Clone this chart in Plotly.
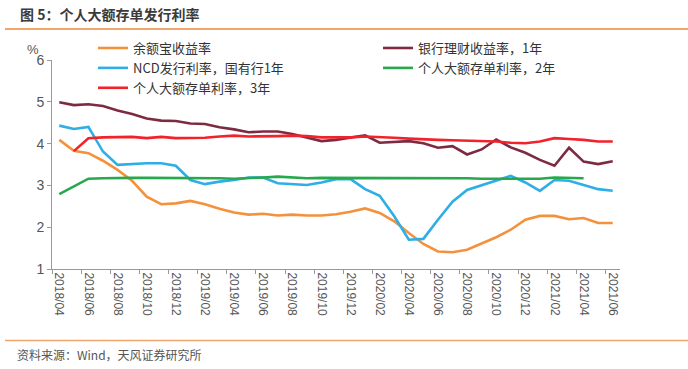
import plotly.graph_objects as go

months = ["2018/04","2018/05","2018/06","2018/07","2018/08","2018/09","2018/10","2018/11","2018/12",
          "2019/01","2019/02","2019/03","2019/04","2019/05","2019/06","2019/07","2019/08","2019/09","2019/10","2019/11","2019/12",
          "2020/01","2020/02","2020/03","2020/04","2020/05","2020/06","2020/07","2020/08","2020/09","2020/10","2020/11","2020/12",
          "2021/01","2021/02","2021/03","2021/04","2021/05","2021/06"]

yuebao = [4.09, 3.83, 3.77, 3.59, 3.37, 3.11, 2.73, 2.55, 2.57, 2.63, 2.55, 2.44, 2.35, 2.30, 2.32, 2.28, 2.30, 2.28, 2.28, 2.31,
          2.37, 2.45, 2.34, 2.14, 1.86, 1.60, 1.42, 1.40, 1.46, 1.61, 1.76, 1.94, 2.18, 2.27, 2.27, 2.19, 2.22, 2.10, 2.10]

bank_wm_1y = [4.99, 4.92, 4.94, 4.90, 4.79, 4.71, 4.60, 4.55, 4.54, 4.48, 4.47, 4.39, 4.34, 4.27, 4.29, 4.29, 4.23, 4.14, 4.06, 4.09,
              4.15, 4.20, 4.02, 4.04, 4.06, 4.01, 3.90, 3.94, 3.74, 3.86, 4.10, 3.91, 3.78, 3.61, 3.47, 3.90, 3.57, 3.51, 3.58]

ncd_1y = [4.43, 4.35, 4.40, 3.81, 3.49, 3.51, 3.53, 3.53, 3.47, 3.13, 3.03, 3.09, 3.13, 3.19, 3.19, 3.05, 3.03, 3.01, 3.07, 3.15,
          3.15, 2.91, 2.75, 2.26, 1.70, 1.72, 2.18, 2.61, 2.89, 3.00, 3.11, 3.23, 3.07, 2.87, 3.13, 3.11, 3.01, 2.91, 2.87]

cd_2y = [2.79, 2.97, 3.16, 3.17, 3.18, 3.18, 3.18, 3.18, 3.18, 3.18, 3.18, 3.17, 3.16, 3.17, 3.19, 3.21, 3.19, 3.17, 3.18, 3.18,
         3.17, 3.18, 3.18, 3.18, 3.18, 3.18, 3.17, 3.17, 3.17, 3.16, 3.16, 3.16, 3.16, 3.16, 3.19, 3.18, 3.17, None, None]

cd_3y = [None, 3.82, 4.13, 4.15, 4.16, 4.16, 4.13, 4.16, 4.13, 4.14, 4.14, 4.17, 4.19, 4.17, 4.17, 4.18, 4.19, 4.18, 4.15, 4.15,
         4.15, 4.17, 4.16, 4.14, 4.12, 4.10, 4.09, 4.08, 4.07, 4.05, 4.05, 4.02, 4.01, 4.05, 4.13, 4.11, 4.09, 4.05, 4.05]

series = [
    ("余额宝收益率", yuebao, "#F4913C", "legend", 1),
    ("银行理财收益率，1年", bank_wm_1y, "#7E2A40", "legend2", 1),
    ("NCD发行利率，国有行1年", ncd_1y, "#2EAEE6", "legend", 2),
    ("个人大额存单利率，2年", cd_2y, "#27A84C", "legend2", 2),
    ("个人大额存单利率，3年", cd_3y, "#F2222B", "legend", 3),
]

FONT = "Liberation Sans, Noto Sans CJK SC, sans-serif"
CJK = "Noto Sans CJK SC, sans-serif"

fig = go.Figure()
for name, vals, col, lg, rank in series:
    fig.add_trace(go.Scatter(x=months, y=vals, name=name, mode="lines", legend=lg, legendrank=rank,
                             line=dict(color=col, width=2.6), connectgaps=False))

PW, PH = 568, 209.3
leg_common = dict(orientation="v", xanchor="left", yanchor="top", xref="paper", yref="paper",
                  font=dict(family=CJK, size=13, color="#333333"),
                  bgcolor="rgba(0,0,0,0)", tracegroupgap=0, itemwidth=30, traceorder="normal")

fig.update_layout(
    width=688, height=369,
    margin=dict(l=52, r=68, t=60, b=100, autoexpand=False),
    paper_bgcolor="white", plot_bgcolor="white",
    font=dict(family=FONT, color="#404040"),
    showlegend=True,
    legend=dict(x=(93 - 52) / PW, y=1 + (60 - 33) / PH, **leg_common),
    legend2=dict(x=(378 - 52) / PW, y=1 + (60 - 33) / PH, **leg_common),
    xaxis=dict(type="category", tickson="boundaries", tickmode="linear", tick0=0, dtick=2,
               ticks="outside", ticklen=4, tickcolor="#999999",
               showline=True, linecolor="#999999", linewidth=1,
               showgrid=False, zeroline=False, tickangle=90,
               tickfont=dict(family=FONT, size=12, color="#555555"),
               range=[-0.5, 38.5]),
    yaxis=dict(range=[1, 6], tickmode="linear", tick0=1, dtick=1,
               ticks="outside", ticklen=4, tickcolor="#999999",
               showline=True, linecolor="#999999", linewidth=1,
               showgrid=False, zeroline=False,
               tickfont=dict(family=FONT, size=14, color="#555555")),
)

fig.add_annotation(text="<b>图 5：个人大额存单发行利率</b>", xref="paper", yref="paper",
                   x=-34 / PW, y=1 + 46 / PH, xanchor="left", yanchor="middle", showarrow=False,
                   font=dict(family=CJK, size=14, color="#3a3a3a"))
fig.add_annotation(text="资料来源：Wind，天风证券研究所", xref="paper", yref="paper",
                   x=-37 / PW, y=-86 / PH, xanchor="left", yanchor="middle", showarrow=False,
                   font=dict(family=CJK, size=12, color="#555555"))
fig.add_annotation(text="%", xref="paper", yref="paper",
                   x=-19 / PW, y=1 + 11 / PH, xanchor="center", yanchor="middle", showarrow=False,
                   font=dict(family=FONT, size=13, color="#555555"))

fig.add_shape(type="line", xref="paper", yref="paper", x0=-47 / PW, x1=1 + 68 / PW,
              y0=1 + 31 / PH, y1=1 + 31 / PH, line=dict(color="#F2A56A", width=2))
fig.add_shape(type="line", xref="paper", yref="paper", x0=-47 / PW, x1=1 + 68 / PW,
              y0=-71.5 / PH, y1=-71.5 / PH, line=dict(color="#F2A56A", width=1.5))

fig.write_html("out.html", config={"displayModeBar": False},
               post_script="document.body.style.margin='0';document.body.style.overflow='hidden';")
